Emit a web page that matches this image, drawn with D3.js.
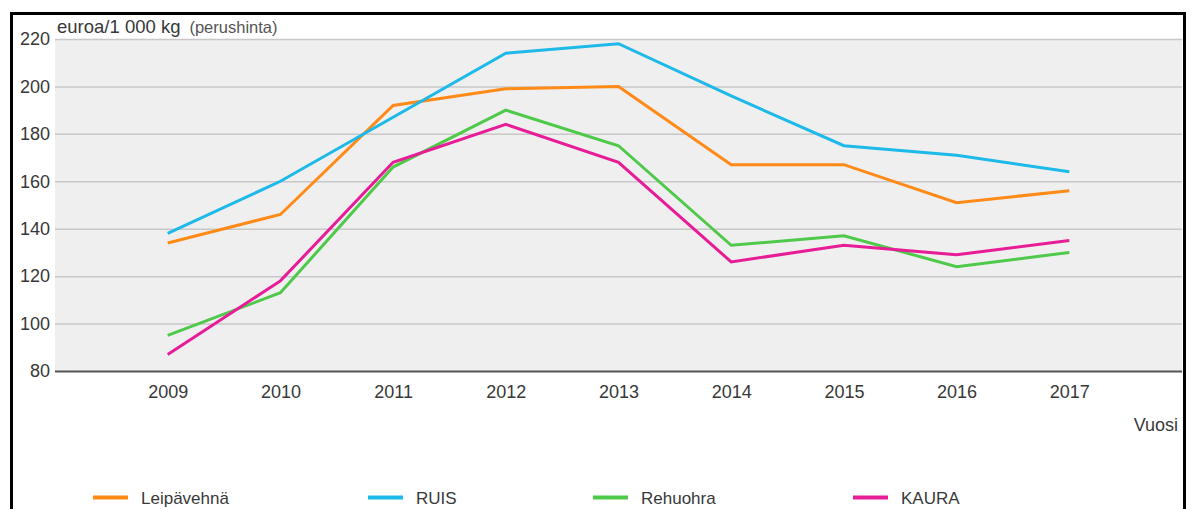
<!DOCTYPE html>
<html>
<head>
<meta charset="utf-8">
<script src="https://cdn.jsdelivr.net/npm/d3@7"></script>
<style>
  body { margin: 0; background: #fff; }
  text { font-family: "Liberation Sans", Arial, sans-serif; }
</style>
</head>
<body>
<div id="chart"></div>
<script>
// data
const years = [2009, 2010, 2011, 2012, 2013, 2014, 2015, 2016, 2017];
const leipavehna = [134, 146, 192, 199, 200, 167, 167, 151, 156];
const ruis = [138, 160, 187, 214, 218, 196, 175, 171, 164];
const rehuohra = [95, 113, 166, 190, 175, 133, 137, 124, 130];
const kaura = [87, 118, 168, 184, 168, 126, 133, 129, 135];
const seriesNames = ["Leipävehnä", "RUIS", "Rehuohra", "KAURA"];
const yTicks = [80, 100, 120, 140, 160, 180, 200, 220];

const colors = ["#ff8a17", "#1cb9e9", "#4ec94a", "#e71c97"];
const series = [leipavehna, ruis, rehuohra, kaura];
const legendX = [93, 368, 593, 853];

const W = 1192, H = 509;
const plot = {left: 55, right: 1182, top: 39, bottom: 371};

const svg = d3.select("#chart")
    .append("svg")
    .attr("width", W)
    .attr("height", H);

// outer frame
svg.append("rect")
    .attr("x", 11.5).attr("y", 13.5)
    .attr("width", 1173).attr("height", 520)
    .attr("fill", "none")
    .attr("stroke", "#000")
    .attr("stroke-width", 3);

const x = d3.scaleLinear()
    .domain([2008, 2018])
    .range([plot.left, plot.right]);

const y = d3.scaleLinear()
    .domain([80, 220])
    .range([plot.bottom, plot.top]);

// background
svg.append("rect")
    .attr("x", plot.left).attr("y", plot.top)
    .attr("width", plot.right - plot.left)
    .attr("height", plot.bottom - plot.top)
    .attr("fill", "#efefef");

// grid + y labels
const yAxis = svg.append("g")
    .attr("transform", `translate(${plot.left},0)`)
    .call(d3.axisLeft(y).tickValues(yTicks).tickSize(-(plot.right - plot.left)).tickPadding(5))
yAxis.select(".domain").remove();
yAxis.selectAll(".tick line")
    .attr("stroke", function (d) { return d === 80 ? "#555" : "#c8c8c8"; })
    .attr("stroke-width", function (d) { return d === 80 ? 2 : 1.5; });
yAxis.selectAll(".tick text")
    .attr("fill", "#383838")
    .style("font-size", "18px")
    .attr("x", -5);

// x labels
const xAxis = svg.append("g")
    .attr("transform", `translate(0,${plot.bottom})`)
    .call(d3.axisBottom(x).tickValues(years).tickFormat(d3.format("d")).tickSize(0).tickPadding(14));
xAxis.select(".domain").remove();
xAxis.selectAll(".tick text")
    .attr("fill", "#383838")
    .style("font-size", "18px");

// lines
const line = d3.line()
    .x(function (d, i) { return x(years[i]); })
    .y(function (d) { return y(d); });

series.forEach(function (s, i) {
    svg.append("path")
        .datum(s)
        .attr("d", line)
        .attr("fill", "none")
        .attr("stroke", colors[i])
        .attr("stroke-width", 3)
        .attr("stroke-linejoin", "miter");
});

// unit label
const unit = svg.append("text")
    .attr("x", 57).attr("y", 33)
    .attr("fill", "#383838");
unit.append("tspan").style("font-size", "18.5px").text("euroa/1 000 kg");
unit.append("tspan").attr("dx", 9).style("font-size", "16.5px").attr("fill", "#555").text("(perushinta)");

// x title
svg.append("text")
    .attr("x", 1178).attr("y", 431)
    .attr("text-anchor", "end")
    .attr("fill", "#383838")
    .style("font-size", "18px")
    .text("Vuosi");

// legend
const legend = svg.selectAll(".legend")
    .data(seriesNames)
    .enter().append("g")
    .attr("class", "legend")
    .attr("transform", function (d, i) { return `translate(${legendX[i]},497.5)`; });

legend.append("line")
    .attr("x1", 0).attr("x2", 35)
    .attr("stroke", function (d, i) { return colors[i]; })
    .attr("stroke-width", 4);

legend.append("text")
    .attr("x", 48).attr("y", 6)
    .attr("fill", "#383838")
    .style("font-size", "17px")
    .text(function (d) { return d; });
</script>
</body>
</html>
